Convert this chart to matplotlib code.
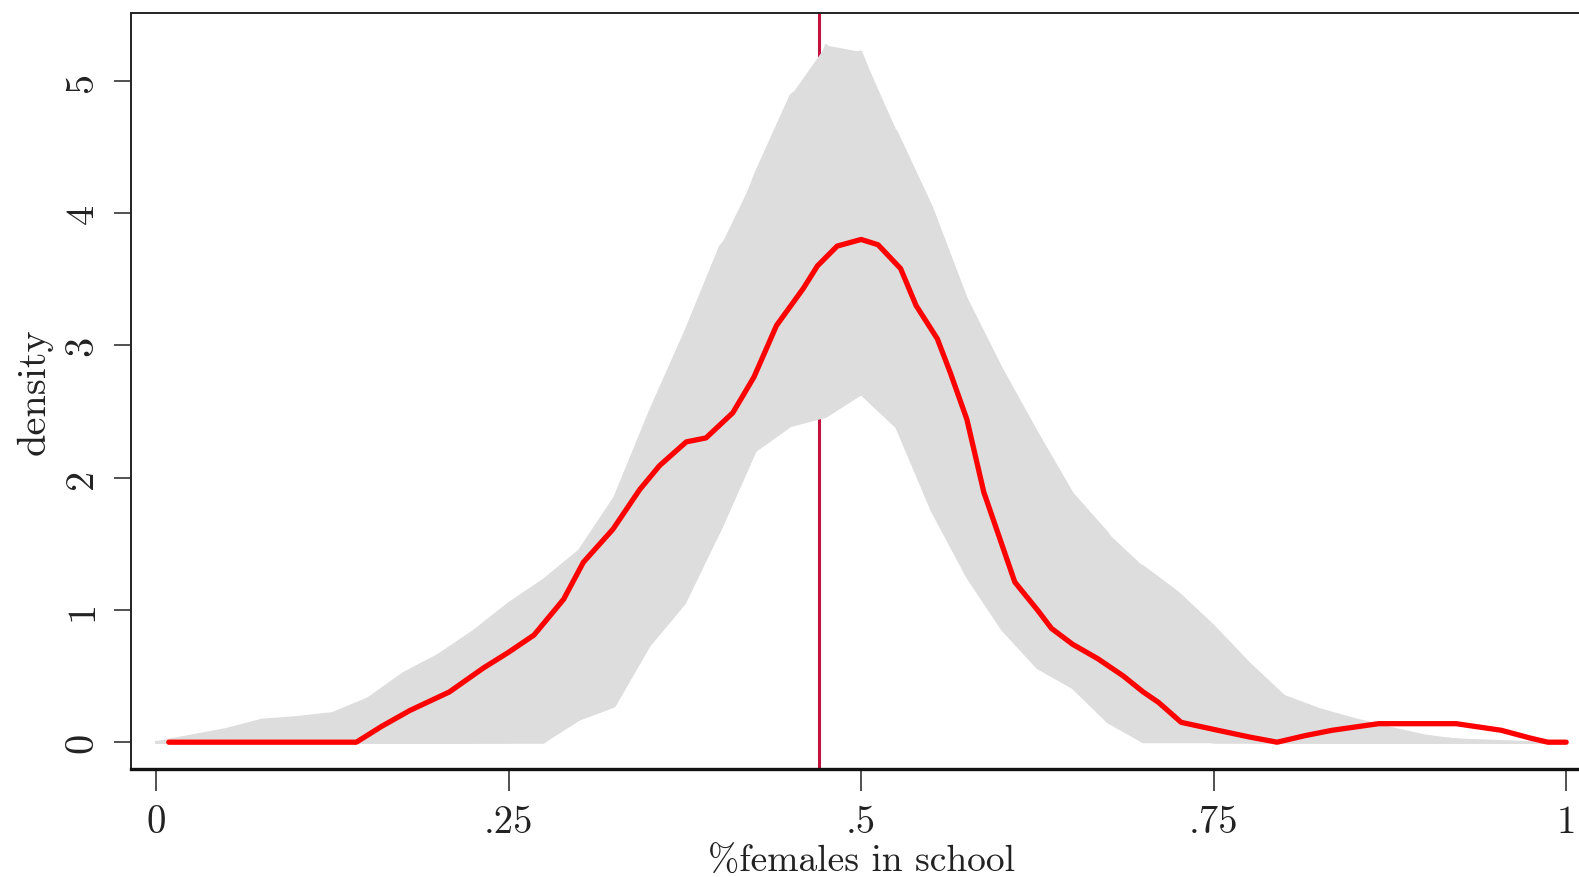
import numpy as np
import matplotlib
matplotlib.use("Agg")
import matplotlib.pyplot as plt
import matplotlib.transforms as mtransforms

plt.rcParams['font.family'] = ['cmr10', 'DejaVu Serif']
plt.rcParams['axes.unicode_minus'] = False

# ---------------- data ----------------
grid_x = [0.000, 0.025, 0.050, 0.075, 0.100, 0.125, 0.150, 0.175, 0.200, 0.225,
          0.250, 0.275, 0.300, 0.325, 0.350, 0.375, 0.400, 0.425, 0.450, 0.475,
          0.500, 0.525, 0.550, 0.575, 0.600, 0.625, 0.650, 0.675, 0.700, 0.725,
          0.750, 0.775, 0.800, 0.825, 0.850, 0.875, 0.900, 0.925, 0.950, 0.975, 1.000]

gray_a = [0, .05, .10, .17, .19, .22, .33, .52, .66, .84, 1.05, 1.23, 1.45, 1.85, 2.50, 3.10, 3.75, 4.05, 4.10, 3.95,
          3.60, 3.10, 2.55, 2.00, 1.50, 1.05, .70, .45, .30, .20, .12, .07, .03, 0, 0, 0, 0, 0, 0, 0, 0]
gray_b = [0, 0, 0, 0, 0, 0, 0, 0, 0, 0, .10, .25, .50, 1.00, 1.70, 2.60, 3.60, 4.30, 4.89, 5.10,
          4.80, 4.00, 3.10, 2.20, 1.45, .90, .50, .25, .10, .03, 0, 0, 0, 0, 0, 0, 0, 0, 0, 0, 0]
gray_c = [0, 0, 0, 0, 0, 0, 0, 0, 0, 0, .05, .10, .20, .40, .80, 1.40, 2.30, 3.40, 4.50, 5.27,
          5.05, 4.30, 3.30, 2.30, 1.50, .90, .50, .25, .10, .03, 0, 0, 0, 0, 0, 0, 0, 0, 0, 0, 0]
gray_d = [0, 0, 0, 0, 0, 0, 0, 0, 0, 0, 0, 0, .20, .45, .80, 1.20, 1.90, 2.90, 3.90, 5.15,
          5.22, 4.55, 3.80, 2.90, 2.00, 1.30, .75, .40, .18, .07, .02, 0, 0, 0, 0, 0, 0, 0, 0, 0, 0]
gray_e = [0, 0, 0, 0, 0, 0, 0, 0, 0, 0, 0, .10, .20, .40, .80, 1.10, 1.65, 2.30, 2.90, 3.60,
          4.30, 4.62, 4.05, 3.35, 2.82, 2.34, 1.88, 1.58, 1.10, .80, .55, .35, .20, .10, .05, .02, 0, 0, 0, 0, 0]
gray_f = [0, 0, 0, 0, 0, 0, 0, 0, 0, 0, 0, 0, .20, .40, .80, 1.10, 1.70, 2.30, 2.60, 2.90,
          3.00, 3.05, 2.85, 2.50, 2.15, 1.85, 1.50, 1.42, 1.33, 1.13, .88, .60, .35, .25, .175, .11, .05, .015, 0, 0, 0]
gray_g = [0, 0, 0, 0, 0, 0, 0, 0, 0, 0, 0, 0, .20, .40, .80, 1.20, 1.80, 2.50, 3.10, 3.50,
          3.60, 3.40, 2.90, 2.20, 1.60, 1.15, .90, .78, .75, .74, .66, .50, .32, .20, .12, .06, .02, 0, 0, 0, 0]
gray_h = [0, 0, 0, 0, 0, 0, 0, 0, 0, 0, .05, .15, .30, .55, .90, 1.40, 2.10, 2.90, 3.60, 4.10,
          4.30, 4.00, 3.40, 2.60, 1.90, 1.30, .85, .50, .28, .14, .06, .02, 0, 0, 0, 0, 0, 0, 0, 0, 0]
gray_i = [0, 0, 0, 0, 0, 0, 0, 0, .05, .10, .20, .35, .60, .95, 1.40, 2.00, 2.80, 3.50, 3.90, 3.80,
          3.40, 2.80, 2.10, 1.50, 1.00, .62, .45, .20, .10, .04, 0, 0, 0, 0, 0, 0, 0, 0, 0, 0, 0]
gray_j = [0, 0, 0, 0, 0, 0, 0, 0, 0, 0, 0, 0, .20, .45, .80, 1.25, 1.90, 2.70, 3.50, 4.20,
          4.60, 4.40, 3.70, 2.80, 2.00, 1.40, .95, .60, .35, .18, .08, .03, 0, 0, 0, 0, 0, 0, 0, 0, 0]
gray_k = [0, 0, 0, 0, 0, 0, 0, 0, 0, 0, .02, .05, .20, .40, .80, 1.10, 1.60, 2.20, 2.80, 3.20,
          3.30, 3.00, 2.50, 1.90, 1.40, 1.00, .72, .52, .38, .28, .20, .14, .10, .08, .06, .05, .04, .02, .01, 0, 0]
gray_m = [0, 0, .02, .05, .10, .15, .20, .28, .40, .55, .72, .90, 1.15, 1.50, 1.95, 2.50, 3.00, 3.40, 3.60, 3.55,
          3.30, 2.90, 2.35, 1.80, 1.30, .90, .58, .36, .20, .10, .04, 0, 0, 0, 0, 0, 0, 0, 0, 0, 0]
gray_l1 = [0, 0, 0, 0, 0, 0, 0, 0, 0, 0, 0, 0, .17, .27, .73, 1.05, 1.60, 2.20, 2.39, 2.46,
           2.63, 2.38, 1.75, 1.25, .85, .56, .41, .15, 0, 0, 0, 0, 0, 0, 0, 0, 0, 0, 0, 0, 0]
gray_l2 = [0, 0, 0, 0, 0, 0, 0, 0, 0, 0, 0, .02, .20, .40, .80, 1.20, 1.75, 2.30, 2.60, 2.75,
           2.70, 2.50, 2.10, 1.60, 1.15, .80, .50, .30, .15, .05, 0, 0, 0, 0, 0, 0, 0, 0, 0, 0, 0]

gray_curves = [gray_a, gray_b, gray_c, gray_d, gray_e, gray_f, gray_g, gray_h,
               gray_i, gray_j, gray_k, gray_m, gray_l1, gray_l2]

red_x = [0.009, 0.142, 0.160, 0.180, 0.208, 0.232, 0.250, 0.268, 0.289, 0.303,
         0.324, 0.343, 0.357, 0.376, 0.390, 0.409, 0.424, 0.440, 0.459, 0.469,
         0.483, 0.500, 0.512, 0.528, 0.539, 0.554, 0.563, 0.575, 0.587, 0.609,
         0.625, 0.635, 0.650, 0.668, 0.686, 0.700, 0.711, 0.727, 0.753, 0.775,
         0.795, 0.815, 0.834, 0.867, 0.895, 0.922, 0.954, 0.975, 0.987, 1.000]
red_y = [0.00, 0.00, 0.12, 0.24, 0.38, 0.56, 0.68, 0.81, 1.08, 1.36,
         1.61, 1.91, 2.09, 2.27, 2.30, 2.49, 2.76, 3.15, 3.43, 3.60,
         3.75, 3.80, 3.76, 3.58, 3.30, 3.05, 2.80, 2.44, 1.89, 1.21,
         1.00, 0.86, 0.74, 0.63, 0.50, 0.38, 0.30, 0.15, 0.09, 0.04,
         0.00, 0.05, 0.09, 0.14, 0.14, 0.14, 0.09, 0.03, 0.00, 0.00]

vline_x = 0.470

x_ticks = [0, 0.25, 0.5, 0.75, 1.0]
x_tick_labels = ["0", ".25", ".5", ".75", "1"]
y_ticks = [0, 1, 2, 3, 4, 5]
y_tick_labels = ["0", "1", "2", "3", "4", "5"]

# ---------------- figure ----------------
W, H = 1579, 878
fig = plt.figure(figsize=(W / 100, H / 100), dpi=100)
left_px, right_px, top_px, bottom_px = 131, 1600, 14.1, 770
ax = fig.add_axes([left_px / W, 1 - bottom_px / H, (right_px - left_px) / W, (bottom_px - top_px) / H])

GRAY = '#DDDDDD'
ax.axvline(vline_x, color='#C4103C', lw=2.2, zorder=1)

gx = np.array(grid_x)
arr = np.array(gray_curves)
ax.fill_between(gx, arr.min(axis=0), arr.max(axis=0), color=GRAY, lw=0, zorder=2)
for c in gray_curves:
    ax.plot(gx, c, color=GRAY, lw=1.5, zorder=2, solid_joinstyle='round')

ax.plot(red_x, red_y, color='#FF0000', lw=3.8, zorder=3, solid_joinstyle='round',
        solid_capstyle='round')

ax.set_xlim(-0.0178, 1.024)
ax.set_ylim(-0.2026, 5.511)

ax.spines['right'].set_visible(False)
for s in ['left', 'top']:
    ax.spines[s].set_linewidth(1.4)
    ax.spines[s].set_color('#222222')
ax.spines['bottom'].set_linewidth(2.4)
ax.spines['bottom'].set_color('#111111')

ax.set_xticks(x_ticks)
ax.set_xticklabels(x_tick_labels)
ax.set_yticks(y_ticks)
ax.set_yticklabels(y_tick_labels, rotation=90, va='center')
ax.tick_params(axis='x', length=16, width=1.1, pad=9, labelsize=28, colors='#222222')
ax.tick_params(axis='y', length=12, width=1.1, pad=10, labelsize=29, colors='#222222')

trans = mtransforms.blended_transform_factory(ax.transData, ax.transAxes)
ax.text(0.5, -0.1225, "%females in school", transform=trans, ha='center', va='center',
        fontsize=27, color='#222222')
ax.text(-0.0654, 0.5, "density", transform=ax.transAxes, rotation=90, ha='center', va='center',
        fontsize=29, color='#222222')

fig.savefig("out.png", dpi=100)
